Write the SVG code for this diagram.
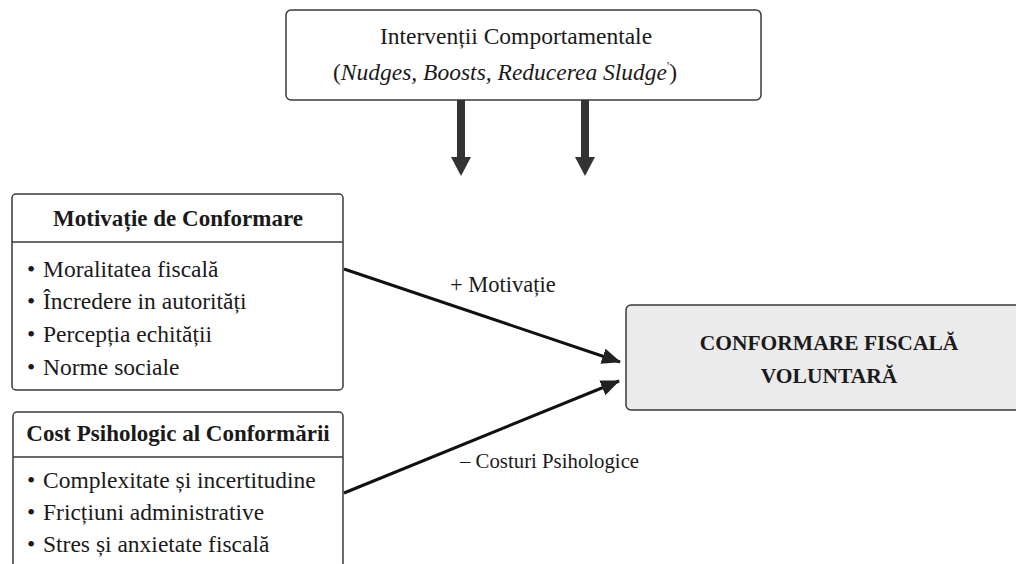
<svg xmlns="http://www.w3.org/2000/svg" width="1016" height="564" viewBox="0 0 1016 564">
<defs>
<style>
.box{fill:#ffffff;stroke:#3a3a3a;stroke-width:1.5}
.div{stroke:#3a3a3a;stroke-width:1.5}
.t{font-family:"Liberation Serif","Times New Roman",serif;fill:#1a1a1a}
.ttl{font-weight:bold;font-size:23px}
.bul{font-size:23.5px}
.lbl{font-size:22.5px}
.conn{stroke:#111;stroke-width:3;fill:none}
.dark{fill:#333}
</style>
<marker id="ah" markerUnits="userSpaceOnUse" markerWidth="20" markerHeight="18" refX="18" refY="8" orient="auto">
<path d="M0,0 L19,8 L0,16 Z" fill="#222"/>
</marker>
</defs>
<rect width="1016" height="564" fill="#ffffff"/>

<g id="interventii">
<rect class="box" x="286" y="10" width="475" height="90" rx="5"/>
<text class="t" x="516" y="44" font-size="23.5" text-anchor="middle">Intervenții Comportamentale</text>
<text class="t" x="505" y="80" font-size="23.5" text-anchor="middle">(<tspan font-style="italic">Nudges, Boosts, Reducerea Sludge</tspan><tspan font-size="12" dy="-10">'</tspan><tspan dy="10">)</tspan></text>
</g>

<g id="motivatie">
<rect class="box" x="12" y="194" width="331" height="196" rx="4"/>
<line class="div" x1="12" y1="242" x2="343" y2="242"/>
<text class="t ttl" x="178" y="226" text-anchor="middle">Motivație de Conformare</text>
<text class="t bul" x="27" y="277">•</text><text class="t bul" x="43" y="277">Moralitatea fiscală</text>
<text class="t bul" x="27" y="309">•</text><text class="t bul" x="43" y="309">Încredere in autorități</text>
<text class="t bul" x="27" y="342">•</text><text class="t bul" x="43" y="342">Percepția echității</text>
<text class="t bul" x="27" y="375">•</text><text class="t bul" x="43" y="375">Norme sociale</text>
</g>

<g id="cost">
<rect class="box" x="13" y="412" width="330" height="170" rx="4"/>
<line class="div" x1="13" y1="457" x2="343" y2="457"/>
<text class="t ttl" x="178" y="441" text-anchor="middle">Cost Psihologic al Conformării</text>
<text class="t bul" x="27" y="488">•</text><text class="t bul" x="43" y="488">Complexitate și incertitudine</text>
<text class="t bul" x="27" y="520">•</text><text class="t bul" x="43" y="520">Fricțiuni administrative</text>
<text class="t bul" x="27" y="552">•</text><text class="t bul" x="43" y="552">Stres și anxietate fiscală</text>
</g>

<g id="conformare">
<rect x="626" y="305" width="400" height="105" rx="5" fill="#ebebeb" stroke="#3a3a3a" stroke-width="1.5"/>
<text class="t ttl" x="829" y="350" text-anchor="middle" style="font-size:21.5px">CONFORMARE FISCALĂ</text>
<text class="t ttl" x="829" y="383" text-anchor="middle" style="font-size:21.5px">VOLUNTARĂ</text>
</g>

<g id="connectors">
<rect class="dark" x="457" y="100" width="8" height="58"/>
<polygon class="dark" points="451,157 471,157 461,176"/>
<rect class="dark" x="581" y="100" width="8" height="58"/>
<polygon class="dark" points="575,157 595,157 585,176"/>
<line class="conn" x1="344" y1="269" x2="620" y2="362" marker-end="url(#ah)"/>
<line class="conn" x1="344" y1="493" x2="619" y2="381" marker-end="url(#ah)"/>
<text class="t lbl" x="450" y="292">+ Motivație</text>
<text class="t lbl" x="460" y="468" style="font-size:20.8px">– Costuri Psihologice</text>
</g>
</svg>
